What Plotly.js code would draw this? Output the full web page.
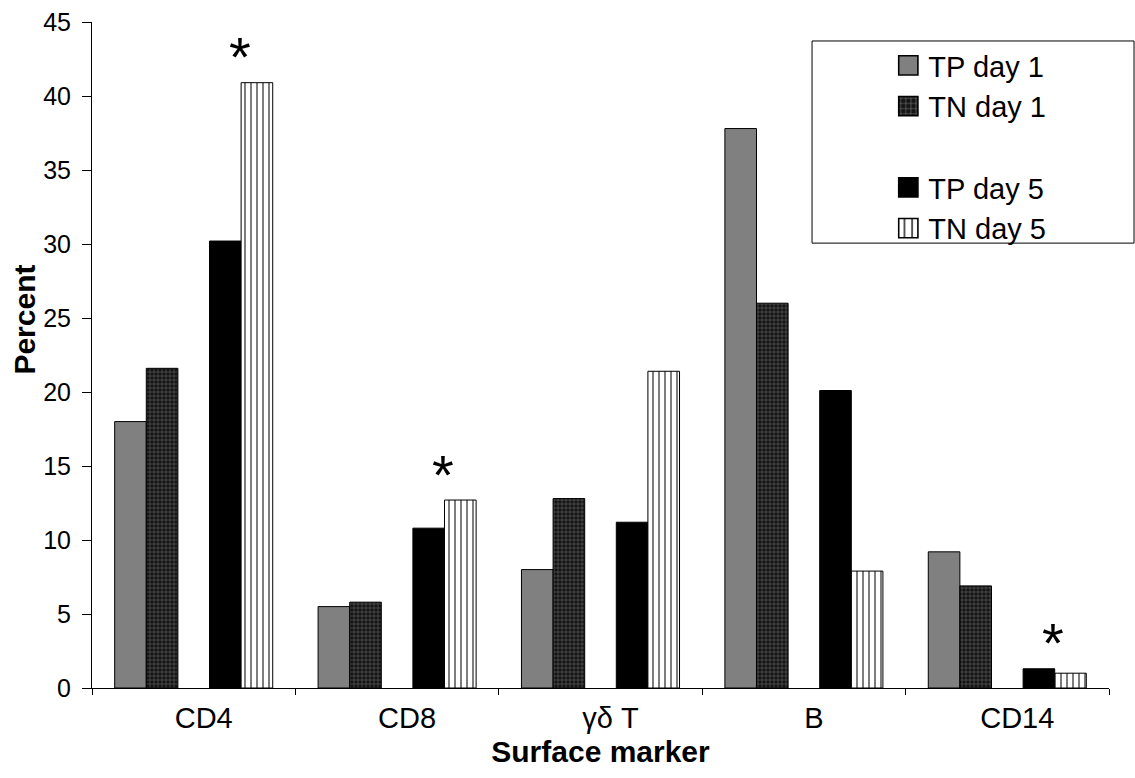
<!DOCTYPE html>
<html>
<head>
<meta charset="utf-8">
<script src="https://cdn.plot.ly/plotly-3.0.1.min.js"></script>
<style>html,body{margin:0;padding:0;background:#fff;} #chart{width:1135px;height:778px;}</style>
</head>
<body>
<div id="chart"></div>
<script>
const categories = ["CD4", "CD8", "γδ T", "B", "CD14"];
const tpDay1 = [18.0, 5.5, 8.0, 37.8, 9.2];
const tnDay1 = [21.6, 5.8, 12.8, 26.0, 6.9];
const tpDay5 = [30.2, 10.8, 11.2, 20.1, 1.3];
const tnDay5 = [40.9, 12.7, 21.4, 7.9, 1.0];
const significant = [true, true, false, false, true];
const seriesNames = ["TP day 1", "TN day 1", "\u00a0", "TP day 5", "TN day 5"];
const xTitle = "Surface marker";
const yTitle = "Percent";

const FONT = "Liberation Sans, Arial, sans-serif";
const outline = {color: "#000", width: 1};

const traces = [
  {type: "bar", name: seriesNames[0], x: categories, y: tpDay1, legendgroup: "g1",
   marker: {color: "#808080", line: outline}},
  {type: "bar", name: seriesNames[1], x: categories, y: tnDay1, legendgroup: "g2",
   marker: {color: "#141414", line: outline,
            pattern: {shape: "+", fgcolor: "#808080", bgcolor: "#141414", size: 4, solidity: 0.2}}},
  {type: "bar", name: seriesNames[2], x: categories, y: categories.map(() => 0), legendgroup: "g3",
   hoverinfo: "skip", marker: {color: "rgba(0,0,0,0)", line: {width: 0}}},
  {type: "bar", name: seriesNames[3], x: categories, y: tpDay5, legendgroup: "g4",
   marker: {color: "#000", line: outline}},
  {type: "bar", name: seriesNames[4], x: categories, y: tnDay5, legendgroup: "g5",
   marker: {color: "#fff", line: outline,
            pattern: {shape: "|", fgcolor: "#000", bgcolor: "#fff", size: 6, solidity: 0.17}}}
];

const annotations = categories.map((c, i) => significant[i] ? {
  x: c, y: Math.max(tpDay5[i], tnDay5[i]), xref: "x", yref: "y",
  text: "*", showarrow: false, xshift: 46, yshift: 26, yanchor: "middle",
  font: {family: FONT, size: 56, color: "#000"}
} : null).filter(a => a);

annotations.push({
  xref: "paper", yref: "paper", x: -0.066, y: 0.553, xanchor: "center", yanchor: "middle",
  text: "<b>" + yTitle + "</b>", textangle: -90, showarrow: false,
  font: {family: FONT, size: 30, color: "#000"}
});

const layout = {
  width: 1135, height: 778,
  margin: {l: 92, r: 26, t: 22, b: 90, pad: 0},
  paper_bgcolor: "#fff", plot_bgcolor: "#fff",
  font: {family: FONT, color: "#000"},
  barmode: "group", bargap: 0.223, bargroupgap: 0,
  showlegend: true,
  legend: {x: 0.783, xanchor: "left", y: 0.973, yanchor: "top",
           font: {family: FONT, size: 29, color: "#000"},
           bgcolor: "rgba(0,0,0,0)", borderwidth: 0,
           traceorder: "grouped", tracegroupgap: 0},
  xaxis: {type: "category", range: [-0.5, 4.5], showline: true, linecolor: "#000", linewidth: 1,
          ticks: "outside", tickson: "boundaries", ticklen: 6, tickcolor: "#000",
          showgrid: false, zeroline: false, tickfont: {family: FONT, size: 29, color: "#000"},
          ticklabelshift: 10, ticklabelstandoff: 4,
          title: {text: "<b>" + xTitle + "</b>", font: {family: FONT, size: 30, color: "#000"}, standoff: 8}},
  yaxis: {range: [0, 45], dtick: 5, showline: true, linecolor: "#000", linewidth: 1,
          ticks: "outside", ticklen: 9, tickcolor: "#000", showgrid: false, zeroline: false,
          tickfont: {family: FONT, size: 25, color: "#000"}, ticklabelstandoff: 6},
  shapes: [{type: "rect", xref: "paper", yref: "paper", x0: 0.708, x1: 1.0246, y0: 0.668, y1: 0.9715,
            line: {color: "#000", width: 1}, fillcolor: "rgba(0,0,0,0)", layer: "above"}],
  annotations: annotations
};

Plotly.newPlot("chart", traces, layout, {staticPlot: true, displayModeBar: false}).then(() => {
  document.querySelectorAll(".legend .legendpoints path").forEach(p => {
    const t = p.getAttribute("transform") || "";
    p.setAttribute("transform", t + " scale(1.6)");
  });
});
</script>
</body>
</html>
